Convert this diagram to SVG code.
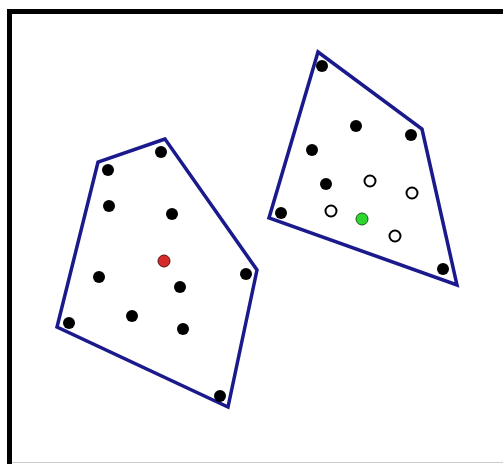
<svg xmlns="http://www.w3.org/2000/svg" width="503" height="464" viewBox="0 0 503 464">
<style>
.hull{fill:none;stroke:#1a1a8c;stroke-width:3.5;stroke-linejoin:miter}
.pt{fill:#000}
.hol{fill:#fff;stroke:#000;stroke-width:2}
</style>
<rect x="0" y="0" width="503" height="464" fill="#fff"/>
<g id="frame">
<path d="M9.5 464 V11.5 H503" fill="none" stroke="#000" stroke-width="5"/>
<line x1="12" y1="462.5" x2="503" y2="462.5" stroke="#ccc" stroke-width="1"/>
</g>
<g id="connectors">
<polygon id="hull-left" class="hull" points="165,139 98,162 57,327 228,407 257,270"/>
<polygon id="hull-right" class="hull" points="318,52 422,129 457,285 269,218"/>
</g>
<g id="cluster-left">
<circle class="pt" cx="161" cy="152" r="6"/>
<circle class="pt" cx="108" cy="170" r="6"/>
<circle class="pt" cx="109" cy="206" r="6"/>
<circle class="pt" cx="172" cy="214" r="6"/>
<circle cx="164" cy="261" r="6" fill="#d42a2a" stroke="#5a1010" stroke-width="1"/>
<circle class="pt" cx="99" cy="277" r="6"/>
<circle class="pt" cx="180" cy="287" r="6"/>
<circle class="pt" cx="246" cy="274" r="6"/>
<circle class="pt" cx="69" cy="323" r="6"/>
<circle class="pt" cx="132" cy="316" r="6"/>
<circle class="pt" cx="183" cy="329" r="6"/>
<circle class="pt" cx="220" cy="396" r="6"/>
</g>
<g id="cluster-right">
<circle class="pt" cx="322" cy="66" r="6"/>
<circle class="pt" cx="356" cy="126" r="6"/>
<circle class="pt" cx="411" cy="135" r="6"/>
<circle class="pt" cx="312" cy="150" r="6"/>
<circle class="pt" cx="326" cy="184" r="6"/>
<circle class="hol" cx="370" cy="181" r="5.5"/>
<circle class="hol" cx="412" cy="193" r="5.5"/>
<circle class="pt" cx="281" cy="213" r="6"/>
<circle class="hol" cx="331" cy="211" r="5.5"/>
<circle cx="362" cy="219" r="6" fill="#2ed52e" stroke="#1a5a1a" stroke-width="1"/>
<circle class="hol" cx="395" cy="236" r="5.5"/>
<circle class="pt" cx="443" cy="269" r="6"/>
</g>
</svg>
